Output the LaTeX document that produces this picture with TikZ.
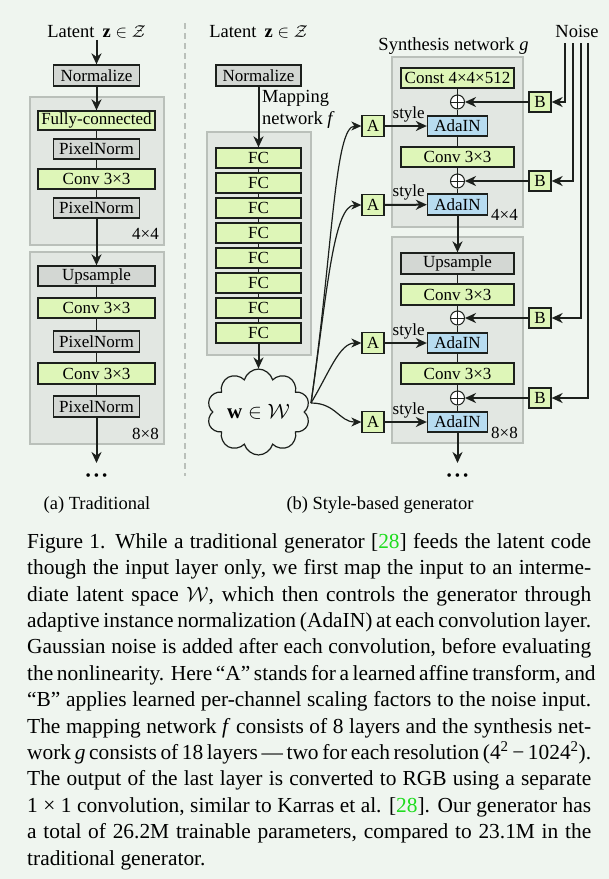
\documentclass[tikz,border=0pt]{standalone}
\usepackage{fontspec}
\setmainfont{Liberation Serif}
\usetikzlibrary{arrows.meta,shapes.symbols}
\definecolor{bgc}{RGB}{239,245,239}
\definecolor{blkc}{RGB}{226,231,226}
\definecolor{blkd}{RGB}{186,192,186}
\definecolor{grayc}{RGB}{211,215,211}
\definecolor{greenc}{RGB}{222,246,184}
\definecolor{bluec}{RGB}{183,220,240}
\definecolor{citec}{RGB}{30,220,30}
\definecolor{linec}{RGB}{28,32,28}
\newcommand{\capline}[1]{\hbox to 564pt{#1}}
\begin{document}
\begin{tikzpicture}[x=1pt,y=-1pt,>={Stealth[length=11pt,width=10pt,inset=3.5pt]},
  lbl/.style={font=\fontsize{17}{22}\selectfont,inner sep=2pt},
  title/.style={font=\fontsize{18.5}{22}\selectfont,inner sep=2pt},
  layer/.style={draw=linec,line width=1.3pt,inner sep=0pt,font=\fontsize{17}{20}\selectfont,minimum height=20pt},
  normbox/.style={layer,fill=grayc,minimum width=86pt},
  upbox/.style={layer,fill=grayc,minimum width=117pt},
  convbox/.style={layer,fill=greenc,minimum width=117pt},
  fcbox/.style={layer,fill=greenc,minimum width=85pt},
  adabox/.style={layer,fill=bluec,minimum width=60pt},
  tinybox/.style={layer,fill=greenc,minimum width=22pt,minimum height=21pt},
  addnode/.style={circle,draw=linec,line width=1pt,fill=white,minimum size=14pt,inner sep=0pt,
    path picture={\draw[linec,line width=1pt] (path picture bounding box.north) -- (path picture bounding box.south)
      (path picture bounding box.east) -- (path picture bounding box.west);}},
  blk/.style={draw=blkd,fill=blkc,line width=1.2pt},
  flow/.style={->,draw=linec,line width=2pt},
  link/.style={draw=linec,line width=1.4pt},
  styleflow/.style={->,draw=linec,line width=1.2pt,>={Stealth[length=10pt,width=9pt,inset=3pt]}},
  dividerline/.style={draw=blkd,line width=1.2pt,dash pattern=on 6pt off 4pt},
  dotsfont/.style={font=\fontsize{15}{15}\selectfont}]
\useasboundingbox (0,0) rectangle (609,879);
\fill[bgc] (0,0) rectangle (609,879);

\draw[blk] (30,97) rectangle (164,245);
\draw[blk] (30,252) rectangle (164,444);
\draw[blk] (207,132) rectangle (311,355);
\draw[blk] (392,57) rectangle (523,227);
\draw[blk] (392,237) rectangle (523,443);
\draw[dividerline] (185,23) -- (185,476);

% traditional
\node[title,anchor=base] (latA) at (96.5,37) {Latent\hspace{8pt}$\mathbf{z}\in\mathcal{Z}$};
\node[normbox,minimum height=21pt] (normA) at (96.5,75.5) {Normalize};
\node[convbox,minimum height=19pt] (fcA) at (96.5,120.5) {Fully-connected};
\node[normbox] (pnA1) at (96.5,149) {PixelNorm};
\node[convbox] (cvA1) at (96.5,179) {Conv 3×3};
\node[normbox] (pnA2) at (96.5,208) {PixelNorm};
\node[lbl,anchor=base east] at (161,239) {4×4};
\node[upbox] (upA) at (96.5,276) {Upsample};
\node[convbox] (cvA2) at (96.5,308) {Conv 3×3};
\node[normbox,minimum height=21pt] (pnA3) at (96.5,341.5) {PixelNorm};
\node[convbox,minimum height=21pt] (cvA3) at (96.5,373.5) {Conv 3×3};
\node[normbox,minimum height=21pt] (pnA4) at (96.5,406.5) {PixelNorm};
\node[lbl,anchor=base east] at (161,439) {8×8};
\coordinate (endA) at (96.5,463);
\node[dotsfont] (dotsA) at (96.5,477) {\textbullet\kern3pt\textbullet\kern3pt\textbullet};
\draw[flow] (latA) -- (normA);
\draw[flow] (normA) -- (fcA);
\draw[link] (fcA) -- (pnA1) -- (cvA1) -- (pnA2);
\draw[flow] (pnA2) -- (upA);
\draw[link] (upA) -- (cvA2) -- (pnA3) -- (cvA3) -- (pnA4);
\draw[flow] (pnA4) -- (endA);

% mapping network
\node[title,anchor=base] (latB) at (258.5,37) {Latent\hspace{8pt}$\mathbf{z}\in\mathcal{Z}$};
\node[normbox,minimum width=85pt,minimum height=21pt] (normB) at (258.5,75.5) {Normalize};
\node[title,anchor=north west,align=left,inner sep=0pt] (mapT) at (262,90) {Mapping\\network \textit{f}};
\foreach \i in {1,...,8}
  \node[fcbox] (fc\i) at (258.5,133+25*\i) {FC};
\draw[flow] (normB) -- (fc1);
\foreach \i [count=\j from 2] in {1,...,7}
  \draw[link] (fc\i) -- (fc\j);
\node[cloud,cloud puffs=10,aspect=1.3,draw=linec,line width=1.2pt,minimum width=103pt,minimum height=81pt,inner sep=0pt,
  font=\fontsize{21}{24}\selectfont] (w) at (258.5,412) {$\mathbf{w}\in\mathcal{W}$};
\draw[flow] (fc8) -- (w);

\foreach \n/\y in {1/126,2/205,3/343,4/422}
  \node[tinybox] (aff\n) at (373,\y) {A};
\coordinate (wout) at (311,403);
\draw[styleflow] (wout) .. controls +(22,-153) and +(-27,0) .. (aff1.west);
\draw[styleflow] (wout) .. controls +(16,-110) and +(-28,0) .. (aff2.west);
\draw[styleflow] (wout) .. controls +(18,-30) and +(-22,0) .. (aff3.west);
\draw[styleflow] (wout) .. controls +(25,0) and +(-22,0) .. (aff4.west);

% synthesis network
\node[title,anchor=base] (synT) at (453.5,50) {Synthesis network \textit{g}};
\node[title,anchor=base] (noise) at (577,37) {Noise};
\node[convbox,minimum width=113pt] (cst) at (457.5,78) {Const 4×4×512};
\node[addnode] (ad1) at (457.5,102) {};
\node[adabox] (ada1) at (457.5,126) {AdaIN};
\node[convbox,minimum width=113pt] (cvS1) at (457.5,157) {Conv 3×3};
\node[addnode] (ad2) at (457.5,181) {};
\node[adabox,minimum height=21pt] (ada2) at (457.5,204.5) {AdaIN};
\node[lbl,anchor=base east] at (520,220) {4×4};
\node[upbox,minimum width=113pt,minimum height=21pt] (upS) at (457.5,263.5) {Upsample};
\node[convbox,minimum width=113pt,minimum height=21pt] (cvS2) at (457.5,294.5) {Conv 3×3};
\node[addnode] (ad3) at (457.5,318) {};
\node[adabox] (ada3) at (457.5,343) {AdaIN};
\node[convbox,minimum width=113pt,minimum height=21pt] (cvS3) at (457.5,373.5) {Conv 3×3};
\node[addnode] (ad4) at (457.5,398) {};
\node[adabox] (ada4) at (457.5,422) {AdaIN};
\node[lbl,anchor=base east] at (520,438) {8×8};
\coordinate (endS) at (457.5,463);
\node[dotsfont] (dotsS) at (457.5,477) {\textbullet\kern3pt\textbullet\kern3pt\textbullet};
\draw[link] (cst) -- (ad1) -- (ada1) -- (cvS1) -- (ad2) -- (ada2);
\draw[flow] (ada2) -- (upS);
\draw[link] (upS) -- (cvS2) -- (ad3) -- (ada3) -- (cvS3) -- (ad4) -- (ada4);
\draw[flow] (ada4) -- (endS);

\foreach \n in {1,...,4}
  \draw[flow] (aff\n) -- node[lbl,anchor=base,pos=.57,yshift=8pt]{style} (ada\n);
\foreach \n/\y in {1/102,2/181,3/318,4/398}
  \node[tinybox,minimum height=20pt] (nz\n) at (540,\y) {B};
\foreach \n/\x in {1/565,2/573,3/581,4/588}{
  \coordinate (n\n) at (\x,43);
  \draw[flow] (n\n) |- (nz\n);
  \draw[flow] (nz\n) -- (ad\n);
}

\node[title,anchor=base] (subA) at (97,509) {(a) Traditional};
\node[title,anchor=base] (subB) at (380,509) {(b) Style-based generator};

\node[anchor=north west,inner sep=0pt,font=\fontsize{21.4}{26.4}\selectfont] (cap) at (27,533) {\vbox{\hsize=564pt
\capline{Figure 1. While a traditional generator [\textcolor{citec}{28}] feeds the latent code}
\capline{though the input layer only, we first map the input to an interme-}
\capline{diate latent space $\mathcal{W}$, which then controls the generator through}
\capline{adaptive instance normalization (AdaIN) at each convolution layer.}
\capline{Gaussian noise is added after each convolution, before evaluating}
\capline{the nonlinearity. Here “A” stands for a learned affine transform, and}
\capline{“B” applies learned per-channel scaling factors to the noise input.}
\capline{The mapping network \textit{f} consists of 8 layers and the synthesis net-}
\capline{work \textit{g} consists of 18 layers\,—\,two for each resolution (4\textsuperscript{2}\,−\,1024\textsuperscript{2}).}
\capline{The output of the last layer is converted to RGB using a separate}
\capline{1 × 1 convolution, similar to Karras et al. [\textcolor{citec}{28}]. Our generator has}
\capline{a total of 26.2M trainable parameters, compared to 23.1M in the}
\capline{traditional generator.\hfil}}};
\end{tikzpicture}
\end{document}
